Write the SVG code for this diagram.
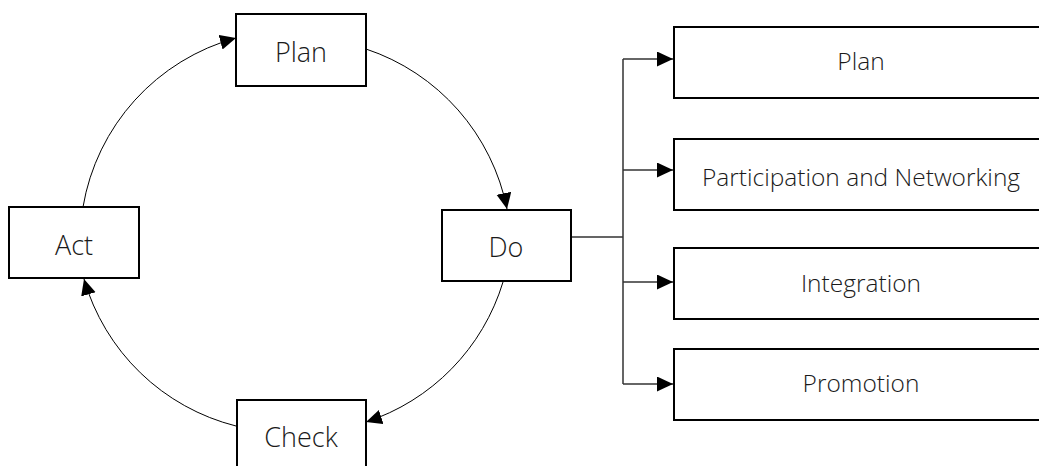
<svg xmlns="http://www.w3.org/2000/svg" width="1039" height="466" viewBox="0 0 1039 466">
<style>
.box{fill:#fff;stroke:#000;stroke-width:2}
.lbl{font-family:"Open Sans","Noto Sans",sans-serif;font-weight:300;fill:#1a1a1a;text-anchor:middle}
.big{font-size:27px}
.sm{font-size:24.5px}
.arc{fill:none;stroke:#000;stroke-width:1}
.tree{fill:none;stroke:#333;stroke-width:1.5}
</style>
<defs>
<marker id="ah" markerUnits="userSpaceOnUse" markerWidth="17" markerHeight="16" refX="16" refY="7.5" orient="auto">
<path d="M0,0 L16,7.5 L0,15 z" fill="#000"/>
</marker>
</defs>
<g id="connectors">
<path class="arc" d="M83,207 A212,212 0 0 1 236,38" marker-end="url(#ah)"/>
<path class="arc" d="M366,49 A212,212 0 0 1 507,209" marker-end="url(#ah)"/>
<path class="arc" d="M503,282 A212,212 0 0 1 366,422" marker-end="url(#ah)"/>
<path class="arc" d="M236,426 A212,212 0 0 1 84,279" marker-end="url(#ah)"/>
<path class="tree" d="M571,237 H623 M623,59 V384"/>
<path class="tree" d="M623,59 H673" marker-end="url(#ah)"/>
<path class="tree" d="M623,170 H673" marker-end="url(#ah)"/>
<path class="tree" d="M623,282 H673" marker-end="url(#ah)"/>
<path class="tree" d="M623,384 H673" marker-end="url(#ah)"/>
</g>
<g id="plan">
<rect class="box" x="236" y="14" width="130" height="72"/>
<text class="lbl big" x="301" y="62">Plan</text>
</g>
<g id="do">
<rect class="box" x="442" y="210" width="129" height="71"/>
<text class="lbl big" x="506" y="257">Do</text>
</g>
<g id="check">
<rect class="box" x="237" y="400" width="129" height="72"/>
<text class="lbl big" x="301" y="447">Check</text>
</g>
<g id="act">
<rect class="box" x="9" y="207" width="130" height="71"/>
<text class="lbl big" x="74" y="255">Act</text>
</g>
<g id="r-plan">
<rect class="box" x="674" y="27" width="380" height="71"/>
<text class="lbl sm" x="861" y="70">Plan</text>
</g>
<g id="r-participation">
<rect class="box" x="674" y="139" width="380" height="71"/>
<text class="lbl sm" x="861" y="186">Participation and Networking</text>
</g>
<g id="r-integration">
<rect class="box" x="674" y="248" width="380" height="71"/>
<text class="lbl sm" x="861" y="292">Integration</text>
</g>
<g id="r-promotion">
<rect class="box" x="674" y="349" width="380" height="71"/>
<text class="lbl sm" x="861" y="392">Promotion</text>
</g>
</svg>
